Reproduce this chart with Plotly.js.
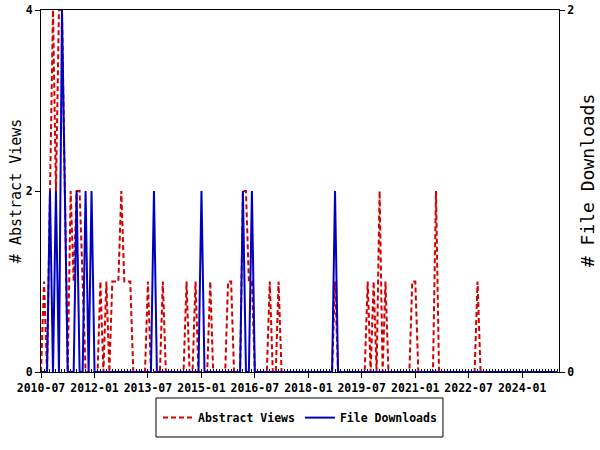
<!DOCTYPE html>
<html>
<head>
<meta charset="utf-8">
<script src="https://cdn.plot.ly/plotly-3.0.1.min.js"></script>
<style>html,body{margin:0;padding:0;background:#fff;}#chart{width:600px;height:450px;}</style>
</head>
<body>
<div id="chart"></div>
<script>
// Monthly points, 2010-07 .. 2025-01
const months = [
  "2010-07","2010-08","2010-09","2010-10","2010-11","2010-12",
  "2011-01","2011-02","2011-03","2011-04","2011-05","2011-06","2011-07","2011-08","2011-09","2011-10","2011-11","2011-12",
  "2012-01","2012-02","2012-03","2012-04","2012-05","2012-06","2012-07","2012-08","2012-09","2012-10","2012-11","2012-12",
  "2013-01","2013-02","2013-03","2013-04","2013-05","2013-06","2013-07","2013-08","2013-09","2013-10","2013-11","2013-12",
  "2014-01","2014-02","2014-03","2014-04","2014-05","2014-06","2014-07","2014-08","2014-09","2014-10","2014-11","2014-12",
  "2015-01","2015-02","2015-03","2015-04","2015-05","2015-06","2015-07","2015-08","2015-09","2015-10","2015-11","2015-12",
  "2016-01","2016-02","2016-03","2016-04","2016-05","2016-06","2016-07","2016-08","2016-09","2016-10","2016-11","2016-12",
  "2017-01","2017-02","2017-03","2017-04","2017-05","2017-06","2017-07","2017-08","2017-09","2017-10","2017-11","2017-12",
  "2018-01","2018-02","2018-03","2018-04","2018-05","2018-06","2018-07","2018-08","2018-09","2018-10","2018-11","2018-12",
  "2019-01","2019-02","2019-03","2019-04","2019-05","2019-06","2019-07","2019-08","2019-09","2019-10","2019-11","2019-12",
  "2020-01","2020-02","2020-03","2020-04","2020-05","2020-06","2020-07","2020-08","2020-09","2020-10","2020-11","2020-12",
  "2021-01","2021-02","2021-03","2021-04","2021-05","2021-06","2021-07","2021-08","2021-09","2021-10","2021-11","2021-12",
  "2022-01","2022-02","2022-03","2022-04","2022-05","2022-06","2022-07","2022-08","2022-09","2022-10","2022-11","2022-12",
  "2023-01","2023-02","2023-03","2023-04","2023-05","2023-06","2023-07","2023-08","2023-09","2023-10","2023-11","2023-12",
  "2024-01","2024-02","2024-03","2024-04","2024-05","2024-06","2024-07","2024-08","2024-09","2024-10","2024-11","2024-12",
  "2025-01"
];

const abstractViews = [
  0,1,0,2,4,2,
  4,4,2,0,2,1,2,2,1,0,0,0,
  0,0,1,0,1,0,1,1,1,2,1,1,
  1,0,0,0,0,0,1,0,0,0,0,1,
  0,0,0,0,0,0,0,1,0,0,1,0,
  0,0,0,1,0,0,0,0,0,1,1,0,
  0,0,2,2,1,1,0,0,0,0,0,1,
  0,0,1,0,0,0,0,0,0,0,0,0,
  0,0,0,0,0,0,0,0,0,1,0,0,
  0,0,0,0,0,0,0,0,1,0,1,0,
  2,0,1,0,0,0,0,0,0,0,0,1,
  1,0,0,0,0,0,0,2,0,0,0,0,
  0,0,0,0,0,0,0,0,0,1,0,0,
  0,0,0,0,0,0,0,0,0,0,0,0,
  0,0,0,0,0,0,0,0,0,0,0,0,
  0
];

const fileDownloads = [
  0,0,0,1,0,1,
  0,2,1,0,0,0,1,0,0,1,0,1,
  0,0,0,0,0,0,0,0,0,0,0,0,
  0,0,0,0,0,0,0,0,1,0,0,0,
  0,0,0,0,0,0,0,0,0,0,0,0,
  1,0,0,0,0,0,0,0,0,0,0,0,
  0,0,1,0,0,1,0,0,0,0,0,0,
  0,0,0,0,0,0,0,0,0,0,0,0,
  0,0,0,0,0,0,0,0,0,1,0,0,
  0,0,0,0,0,0,0,0,0,0,0,0,
  0,0,0,0,0,0,0,0,0,0,0,0,
  0,0,0,0,0,0,0,0,0,0,0,0,
  0,0,0,0,0,0,0,0,0,0,0,0,
  0,0,0,0,0,0,0,0,0,0,0,0,
  0,0,0,0,0,0,0,0,0,0,0,0,
  0
];

const seriesNames = ["Abstract Views", "File Downloads"];
const leftTicks = [0, 2, 4];
const rightTicks = [0, 2];

const MONO = "DejaVu Sans Mono, monospace";
const RED = "#d40000";
const BLUE = "#0000c0";

const traces = [
  {
    x: months, y: abstractViews, name: seriesNames[0],
    type: "scatter", mode: "lines",
    line: {color: RED, width: 2, dash: "5px,3px"},
    yaxis: "y"
  },
  {
    x: months, y: fileDownloads, name: seriesNames[1],
    type: "scatter", mode: "lines",
    line: {color: BLUE, width: 2},
    yaxis: "y2"
  }
];

const tickFont = {family: MONO, size: 11.5, color: "#000", weight: "bold"};

const layout = {
  width: 600, height: 450,
  margin: {l: 41, r: 41, t: 10, b: 78, pad: 0},
  paper_bgcolor: "#fff", plot_bgcolor: "#fff",
  showlegend: true,
  xaxis: {
    type: "date",
    range: ["2010-07-01", "2025-01-13"],
    tick0: "2010-07-01", dtick: "M18", tickformat: "%Y-%m",
    ticks: "outside", ticklen: 5, tickcolor: "#000", tickwidth: 1,
    showline: true, linecolor: "#000", linewidth: 1, mirror: true,
    showgrid: false, zeroline: false,
    tickfont: tickFont,
    layer: "below traces",
    minor: {dtick: "M1", ticks: "inside", ticklen: 3, tickcolor: "#000", tickwidth: 1, showgrid: false}
  },
  yaxis: {
    range: [0, 4], tickvals: leftTicks, ticktext: leftTicks.map(String),
    ticks: "outside", ticklen: 5, tickcolor: "#000",
    showline: true, linecolor: "#000", linewidth: 1, mirror: true,
    showgrid: false, zeroline: false,
    tickfont: tickFont,
    layer: "below traces"
  },
  yaxis2: {
    overlaying: "y", side: "right",
    range: [0, 2], tickvals: rightTicks, ticktext: rightTicks.map(String),
    ticks: "outside", ticklen: 5, tickcolor: "#000",
    showline: false, showgrid: false, zeroline: false,
    tickfont: tickFont,
    layer: "below traces"
  },
  legend: {
    orientation: "h", x: 0.5, xanchor: "center", y: -0.126, yanchor: "middle",
    font: {family: MONO, size: 11.5, color: "#000", weight: "bold"},
    bgcolor: "rgba(0,0,0,0)", borderwidth: 0, itemwidth: 30
  },
  shapes: [{
    type: "rect", xref: "paper", yref: "paper",
    x0: 0.222, x1: 0.776, y0: -0.1796, y1: -0.0718,
    line: {color: "#000", width: 1}, fillcolor: "rgba(0,0,0,0)"
  }],
  annotations: [
    {text: "# Abstract Views", xref: "paper", yref: "paper", x: -0.048, y: 0.5,
     textangle: -90, showarrow: false, xanchor: "center", yanchor: "middle",
     font: {family: MONO, size: 15, color: "#000"}},
    {text: "# File Downloads", xref: "paper", yref: "paper", x: 1.054, y: 0.53,
     textangle: -90, showarrow: false, xanchor: "center", yanchor: "middle",
     font: {family: MONO, size: 18, color: "#000"}}
  ]
};

Plotly.newPlot("chart", traces, layout, {displayModeBar: false, staticPlot: true});
</script>
</body>
</html>
